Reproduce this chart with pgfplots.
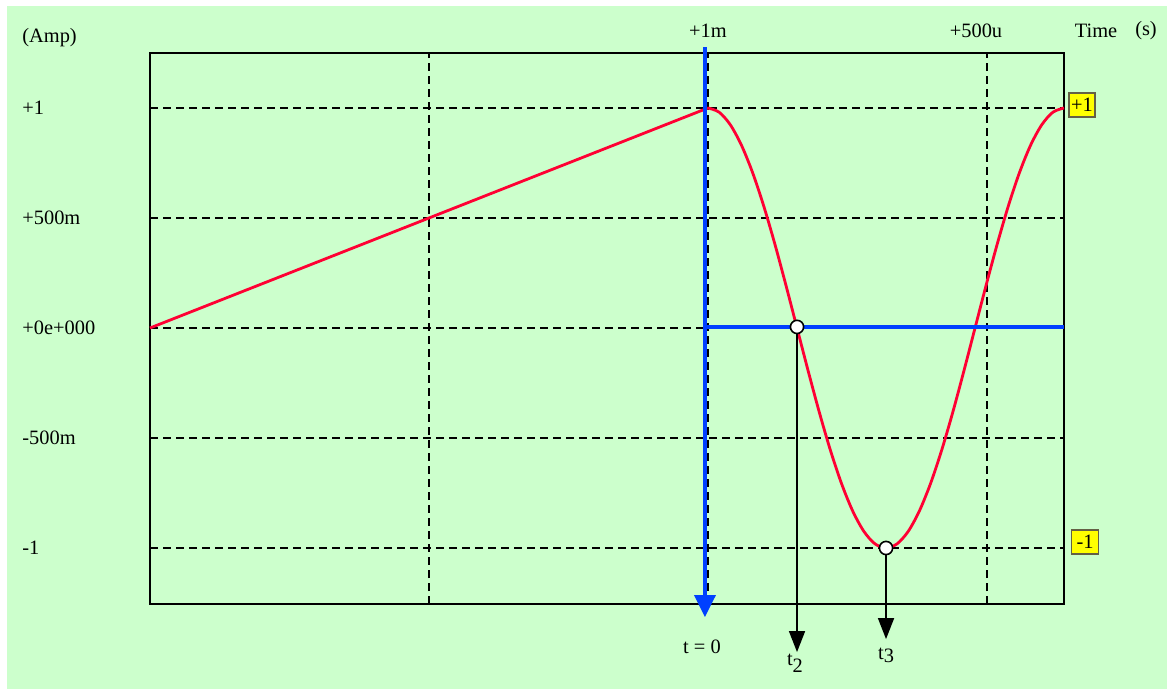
\documentclass[border=0pt]{standalone}
\usepackage{fontspec}
\setmainfont{Liberation Serif}
\usepackage{pgfplots}
\pgfplotsset{compat=1.18}
\usetikzlibrary{arrows.meta}
\definecolor{bggreen}{RGB}{204,255,204}
\definecolor{wavered}{RGB}{255,0,51}
\definecolor{curblue}{RGB}{0,64,255}
\definecolor{tagyellow}{RGB}{255,255,0}
\begin{document}
\fontsize{10.2bp}{12bp}\selectfont
\begin{tikzpicture}
\begin{scope}[x=0.5bp,y=0.5bp]
\useasboundingbox (0,0) rectangle (1167,689);
\fill[white] (0,0) rectangle (1167,689);
\fill[bggreen] (7,0) rectangle (1167,683);
\coordinate (axsw) at (150,85);
\end{scope}
\begin{axis}[
  at={(axsw)}, anchor=south west,
  scale only axis, width=457bp, height=275.5bp,
  xmin=0, xmax=3.276, ymin=-1.2545, ymax=1.25,
  clip=false,
  axis line style={line width=1bp, black},
  xtick={0,1,2,3},
  xticklabels={,,+1m,{\makebox[0pt]{\kern-11bp+500u}}},
  xticklabel pos=upper,
  ytick={-1,-0.5,0,0.5,1},
  yticklabels={-1,-500m,+0e+000,+500m,+1},
  major tick length=0pt,
  tick style={draw=none},
  xticklabel style={anchor=center, yshift=11bp, inner sep=0pt},
  yticklabel style={anchor=west, xshift=-64bp, inner sep=0pt},
  grid=major,
  major grid style={black, line width=1bp, dash pattern=on 4bp off 2.5bp},
]
\addplot[wavered, line width=1.4bp] coordinates {(0,0) (2.0000,1.00000)};
\addplot[wavered, line width=1.4bp, smooth] coordinates {
 (2.0000,1.00000) (2.0399,0.98079) (2.0798,0.92388) (2.1196,0.83147)
 (2.1595,0.70711) (2.1994,0.55557) (2.2393,0.38268) (2.2791,0.19509)
 (2.3190,0.00000) (2.3589,-0.19509) (2.3988,-0.38268) (2.4386,-0.55557)
 (2.4785,-0.70711) (2.5184,-0.83147) (2.5583,-0.92388) (2.5981,-0.98079)
 (2.6380,-1.00000) (2.6779,-0.98079) (2.7178,-0.92388) (2.7576,-0.83147)
 (2.7975,-0.70711) (2.8374,-0.55557) (2.8773,-0.38268) (2.9171,-0.19509)
 (2.9570,0.00000) (2.9969,0.19509) (3.0368,0.38268) (3.0766,0.55557)
 (3.1165,0.70711) (3.1564,0.83147) (3.1963,0.92388) (3.2361,0.98079)
 (3.2760,1.00000)
};
\addplot[curblue, line width=1.8bp, -{Triangle[width=10.5bp,length=11bp]}] coordinates {(1.989,1.277) (1.989,-1.314)};
\addplot[curblue, line width=1.8bp] coordinates {(1.989,0.005) (3.276,0.005)};
\addplot[black, line width=0.8bp, -{Triangle[width=8bp,length=10.5bp]}] coordinates {(2.319,0) (2.319,-1.473)};
\addplot[black, line width=0.8bp, -{Triangle[width=8bp,length=10.5bp]}] coordinates {(2.638,-1) (2.638,-1.414)};
\addplot[only marks, mark=*, mark size=3.3bp, mark options={fill=white, draw=black, line width=0.8bp}] coordinates {(2.319,0.005) (2.638,-1)};
\end{axis}
\begin{scope}[x=0.5bp,y=0.5bp]
\node[anchor=west, inner sep=0pt] at (22,651) {(Amp)};
\node[inner sep=0pt] at (1096,658) {Time};
\node[inner sep=0pt] at (1146,658) {(s)};
\node[inner sep=0pt] at (702,42) {t = 0};
\node[inner sep=0pt] at (795,26) {t\raisebox{-0.35em}{2}};
\node[inner sep=0pt] at (886,34) {t\raisebox{-0.15em}{3}};
\node[fill=tagyellow, draw=black!70!yellow, line width=0.8bp, inner xsep=1.2bp, minimum height=12bp, inner ysep=0pt] at (1082,584) {+1};
\node[fill=tagyellow, draw=black!70!yellow, line width=0.8bp, minimum width=13.5bp, minimum height=12bp, inner sep=0pt] at (1085,147) {-1};
\end{scope}
\end{tikzpicture}
\end{document}
